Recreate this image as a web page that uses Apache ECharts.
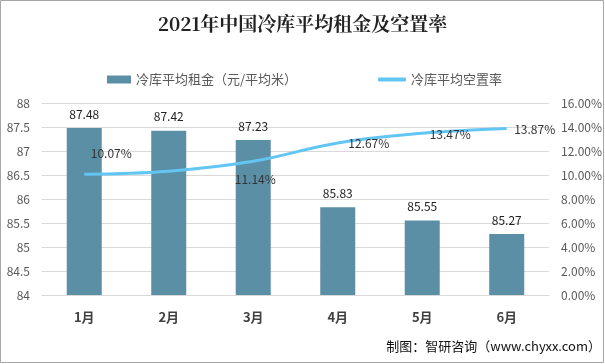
<!DOCTYPE html>
<html><head><meta charset="utf-8">
<script src="https://cdn.jsdelivr.net/npm/echarts@6/dist/echarts.min.js"></script>
<style>html,body{margin:0;padding:0;background:#fff}#c{width:605px;height:364px}</style>
</head><body><div id="c"></div>
<script>
const categories = ['1月','2月','3月','4月','5月','6月'];
const rentValues = [87.48, 87.42, 87.23, 85.83, 85.55, 85.27];
const vacancyValues = [10.07, 10.32, 11.14, 12.67, 13.47, 13.87];
const vacancyLabelShown = [true, false, true, true, true, true];
const rentName = '冷库平均租金（元/平均米）';
const vacancyName = '冷库平均空置率';
const titleText = '2021年中国冷库平均租金及空置率';
const sourceText = '制图：智研咨询（www.chyxx.com）';

const FONT = '"Noto Sans CJK SC", "Noto Sans", sans-serif';
const LINE_COLOR = '#63C6F2';
const labelOffsets = [[27,-9],[0,0],[2,30],[31,12],[28,13],[28,12]];

const chart = echarts.init(document.getElementById('c'), null, {renderer:'canvas'});
chart.setOption({
  animation: false,
  backgroundColor: '#fff',
  textStyle: {fontFamily: FONT},
  title: {
    text: titleText, left: 'center', top: 9,
    textStyle: {fontFamily: '"Noto Serif CJK SC","DejaVu Serif",serif', fontSize: 19, fontWeight: 'bold', color: '#222'}
  },
  legend: [
    {data: [rentName], left: 102, top: 68, itemWidth: 24, itemHeight: 8, itemGap: 6,
     textStyle: {fontSize: 13, color: '#595959', fontFamily: FONT}, icon: 'rect'},
    {data: [{name: vacancyName, icon: 'roundRect', itemStyle: {color: LINE_COLOR}}],
     left: 373, top: 68, itemWidth: 28, itemHeight: 4,
     textStyle: {fontSize: 13, color: '#595959', fontFamily: FONT}}
  ],
  grid: {left: 42, right: 50, top: 103, bottom: 69},
  xAxis: {
    type: 'category', data: categories,
    axisLine: {lineStyle: {color: '#d9d9d9'}},
    axisTick: {show: false},
    axisLabel: {color: '#404040', fontWeight: 'bold', fontSize: 13, margin: 16, fontFamily: FONT}
  },
  yAxis: [
    {type: 'value', min: 84, max: 88, interval: 0.5,
     axisLabel: {color: '#595959', fontSize: 12, margin: 12, fontFamily: FONT},
     splitLine: {lineStyle: {color: '#d9d9d9'}},
     axisLine: {show: false}, axisTick: {show: false}},
    {type: 'value', min: 0, max: 16, interval: 2,
     axisLabel: {color: '#595959', fontSize: 12, margin: 12, fontFamily: FONT,
       formatter: v => v.toFixed(2) + '%'},
     splitLine: {show: false}, axisLine: {show: false}, axisTick: {show: false}}
  ],
  series: [
    {name: rentName, type: 'bar', data: rentValues, barWidth: 35, yAxisIndex: 0,
     itemStyle: {color: '#5B8FA6'},
     label: {show: true, position: 'top', distance: 8, color: '#222', fontSize: 12, fontFamily: FONT}},
    {name: vacancyName, type: 'line', yAxisIndex: 1, smooth: 0.4, showSymbol: true,
     symbol: 'circle', symbolSize: 1,
     lineStyle: {color: LINE_COLOR, width: 3},
     itemStyle: {color: 'rgba(0,0,0,0)'},
     data: vacancyValues.map((v, i) => ({
       value: v,
       label: {show: vacancyLabelShown[i], position: 'top', offset: labelOffsets[i],
               formatter: p => p.value.toFixed(2) + '%', color: '#333', fontSize: 12, fontFamily: FONT}
     }))
    }
  ],
  graphic: [
    {type: 'rect', shape: {x: 0.5, y: 0.5, width: 603, height: 362},
     style: {fill: 'none', stroke: '#a6a6a6', lineWidth: 1}, silent: true},
    {type: 'text', right: 4, top: 340,
     style: {text: sourceText, font: '13px ' + FONT, fill: '#111'}}
  ]
});
</script></body></html>
